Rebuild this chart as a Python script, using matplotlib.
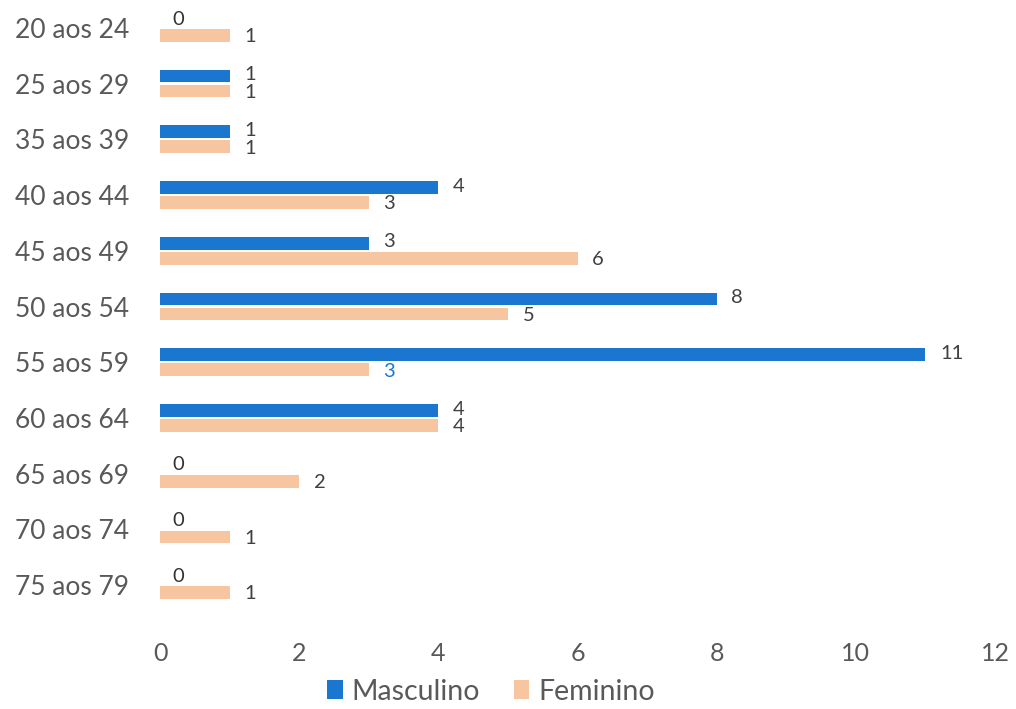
import matplotlib
matplotlib.use("Agg")
import matplotlib.pyplot as plt
import numpy as np

categories = ["20 aos 24", "25 aos 29", "35 aos 39", "40 aos 44", "45 aos 49",
              "50 aos 54", "55 aos 59", "60 aos 64", "65 aos 69", "70 aos 74",
              "75 aos 79"]
masculino = [0, 1, 1, 4, 3, 8, 11, 4, 0, 0, 0]
feminino = [1, 1, 1, 3, 6, 5, 3, 4, 2, 1, 1]
x_ticks = [0, 2, 4, 6, 8, 10, 12]

BLUE = "#1a76cf"
ORANGE = "#f7c59f"
TEXT = "#595959"
LABEL = "#404040"

plt.rcParams["font.family"] = ["Lato", "DejaVu Sans"]

fig = plt.figure(figsize=(10.16, 7.09), dpi=100)
ax = fig.add_axes([0.1575, 0.1354, 0.8219, 0.8646])

y = np.arange(len(categories))
off = 0.134
h = 0.228
ax.barh(y - off, masculino, height=h, color=BLUE, label="Masculino")
ax.barh(y + off, feminino, height=h, color=ORANGE, label="Feminino")

for i, (m, f) in enumerate(zip(masculino, feminino)):
    ax.annotate(str(m), (m, y[i] - off), xytext=(9 if m == 0 else 10.5, 1),
                textcoords="offset points", ha="left", va="center",
                fontsize=14.5, color="#333333" if m == 0 else LABEL)
    fcol = BLUE if categories[i] == "55 aos 59" else LABEL
    ax.annotate(str(f), (f, y[i] + off), xytext=(10.5, -1),
                textcoords="offset points", ha="left", va="center",
                fontsize=14.5, color=fcol)

ax.set_ylim(len(categories) - 0.5, -0.5)
ax.set_xlim(0, 12)
ax.set_yticks(y)
ax.set_yticklabels(categories, fontsize=19, color=TEXT)
ax.set_xticks(x_ticks)
ax.set_xticklabels([str(t) for t in x_ticks], fontsize=18, color=TEXT)
ax.tick_params(axis="y", length=0, pad=22)
ax.tick_params(axis="x", length=0, pad=21)
for s in ax.spines.values():
    s.set_visible(False)

fig.legend(loc="lower center", bbox_to_anchor=(0.483, -0.03), ncol=2,
           frameon=False, fontsize=20.5, labelcolor=TEXT,
           handlelength=0.55, handleheight=0.65, handletextpad=0.3,
           columnspacing=1.2)

fig.savefig("out.png", dpi=100, facecolor="white")
